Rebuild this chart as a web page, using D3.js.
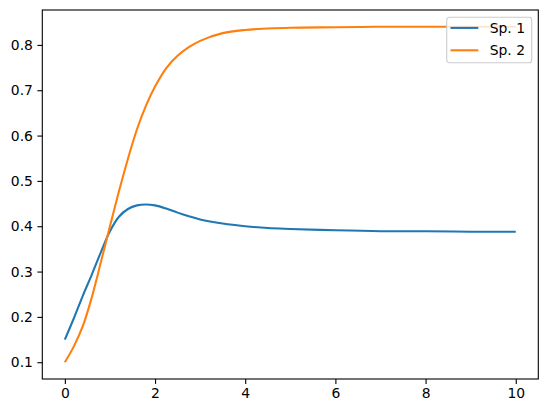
<!DOCTYPE html>
<html>
<head>
<meta charset="utf-8">
<script src="https://cdn.jsdelivr.net/npm/d3@7"></script>
<style>
  body { margin: 0; background: #fff; }
  text { font-family: "DejaVu Sans", sans-serif; }
</style>
</head>
<body>
<div id="chart"></div>
<script>
// values
const times = [0, 0.2, 0.4, 0.6, 0.8, 1.0, 1.2, 1.4, 1.6, 1.8, 2.0, 2.25, 2.5, 2.75,
  3.0, 3.5, 4.0, 4.5, 5.0, 6.0, 7.0, 8.0, 9.0, 10.0];
const sp1 = [0.150, 0.197, 0.247, 0.294, 0.343, 0.389, 0.421, 0.438, 0.446, 0.448, 0.446,
  0.439, 0.430, 0.422, 0.415, 0.406, 0.400, 0.396, 0.394, 0.391, 0.389, 0.389, 0.388, 0.388];
const sp2 = [0.100, 0.135, 0.180, 0.244, 0.321, 0.400, 0.477, 0.549, 0.614, 0.666, 0.708,
  0.749, 0.776, 0.795, 0.809, 0.826, 0.833, 0.836, 0.838, 0.839, 0.840, 0.840, 0.840, 0.840];
const seriesNames = ["Sp. 1", "Sp. 2"];
const colors = ["#1f77b4", "#ff7f0e"];
const xTicks = [0, 2, 4, 6, 8, 10];
const yTicks = [0.1, 0.2, 0.3, 0.4, 0.5, 0.6, 0.7, 0.8];

const width = 547, height = 413;
const margin = { left: 42.3, right: 8.7, top: 10, bottom: 34 };

const svg = d3.select("#chart").append("svg")
  .attr("width", width)
  .attr("height", height);

// matplotlib-like 5% margins
const xExt = d3.extent(times);
const xPad = (xExt[1] - xExt[0]) * 0.05;
const allY = sp1.concat(sp2);
const yExt = d3.extent(allY);
const yPad = (yExt[1] - yExt[0]) * 0.05;

const x = d3.scaleLinear()
  .domain([xExt[0] - xPad, xExt[1] + xPad])
  .range([margin.left, width - margin.right]);
const y = d3.scaleLinear()
  .domain([yExt[0] - yPad, yExt[1] + yPad])
  .range([height - margin.bottom, margin.top]);

const line = d3.line()
  .x(d => x(d[0]))
  .y(d => y(d[1]))
  .curve(d3.curveCatmullRom.alpha(0.5));

const series = [sp1, sp2];
series.forEach((vals, i) => {
  svg.append("path")
    .datum(times.map((t, j) => [t, vals[j]]))
    .attr("fill", "none")
    .attr("stroke", colors[i])
    .attr("stroke-width", 2.08)
    .attr("d", line);
});

// axes
const xAxis = svg.append("g")
  .attr("transform", `translate(0,${height - margin.bottom})`)
  .call(d3.axisBottom(x).tickValues(xTicks).tickSize(4.9).tickPadding(4.5).tickFormat(d3.format("d")));
const yAxis = svg.append("g")
  .attr("transform", `translate(${margin.left},0)`)
  .call(d3.axisLeft(y).tickValues(yTicks).tickSize(4.9).tickPadding(4.5).tickFormat(d3.format(".1f")));

[xAxis, yAxis].forEach(g => {
  g.select(".domain").remove();
  g.selectAll(".tick line").attr("stroke", "#000").attr("stroke-width", 1.1);
  g.selectAll(".tick text")
    .attr("fill", "#000")
    .attr("font-size", "13.9px")
    .attr("font-family", "DejaVu Sans, sans-serif");
});

// frame
svg.append("rect")
  .attr("x", margin.left)
  .attr("y", margin.top)
  .attr("width", width - margin.left - margin.right)
  .attr("height", height - margin.top - margin.bottom)
  .attr("fill", "none")
  .attr("stroke", "#000")
  .attr("stroke-width", 1.1);

// legend
const legend = svg.append("g").attr("transform", "translate(446.7,17.3)");
legend.append("rect")
  .attr("width", 85)
  .attr("height", 45.4)
  .attr("rx", 2.8)
  .attr("fill", "#fff")
  .attr("fill-opacity", 0.8)
  .attr("stroke", "#cccccc")
  .attr("stroke-width", 1.1);

seriesNames.forEach((name, i) => {
  const yy = 10.6 + i * 22.4;
  legend.append("line")
    .attr("x1", 3.8).attr("x2", 31.6)
    .attr("y1", yy).attr("y2", yy)
    .attr("stroke", colors[i])
    .attr("stroke-width", 2.08);
  legend.append("text")
    .attr("x", 43)
    .attr("y", yy + 5)
    .attr("font-size", "13.9px")
    .attr("fill", "#000")
    .text(name);
});
</script>
</body>
</html>
